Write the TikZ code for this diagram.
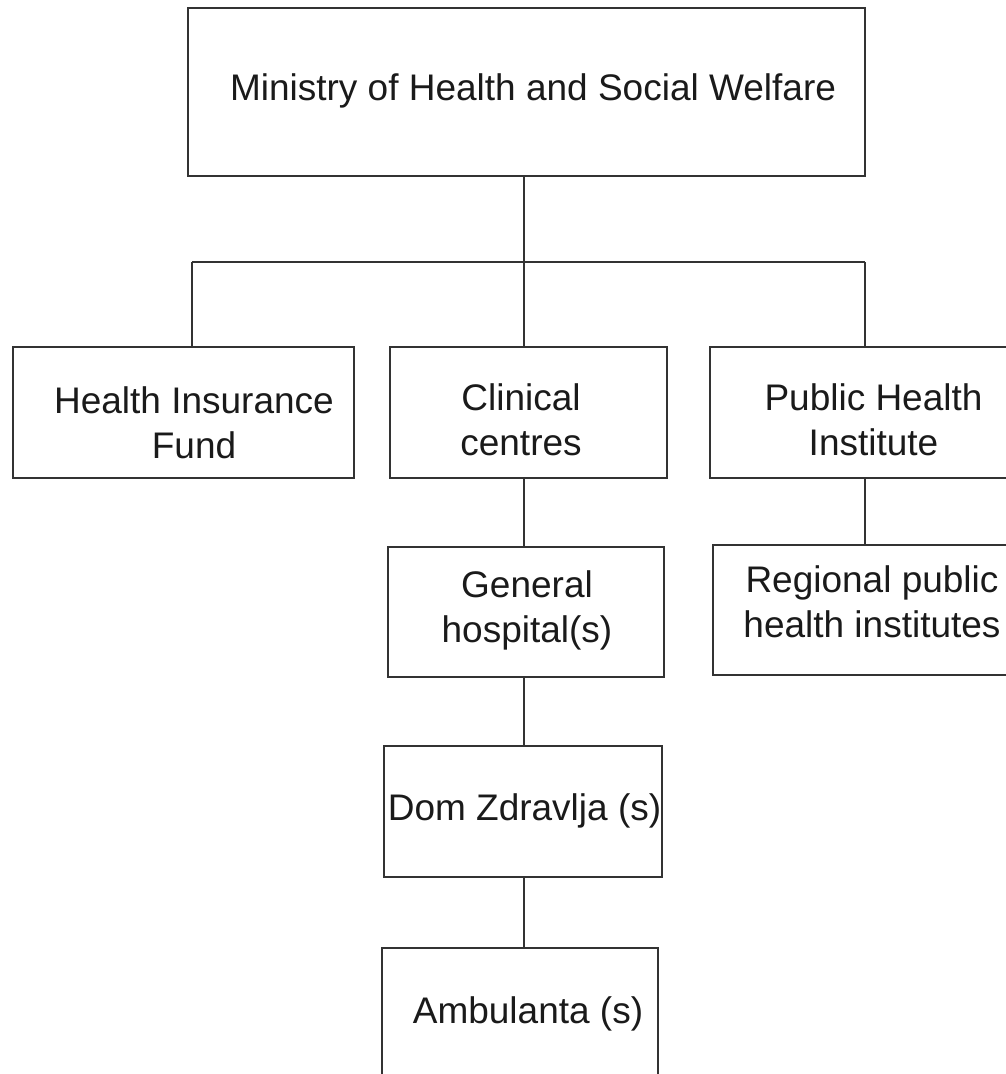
\documentclass[tikz,border=0pt]{standalone}
\usepackage{fontspec}
\setmainfont{Liberation Sans}
\definecolor{linecol}{HTML}{333333}
\definecolor{txtcol}{HTML}{1A1A1A}
\begin{document}
\begin{tikzpicture}[x=1pt,y=-1pt,
  box/.style={draw=linecol, line width=2pt, rectangle, inner sep=0pt, minimum width=#1},
  lbl/.style={anchor=base, inner sep=0pt, text=txtcol, font=\fontsize{37}{45}\selectfont},
  conn/.style={draw=linecol, line width=2pt}]
\useasboundingbox (0,0) rectangle (1006,1074);
\clip (0,0) rectangle (1006,1074);
% boxes
\node[box=677pt, minimum height=168pt] (ministry) at (526.5,92) {};
\node[box=341pt, minimum height=131pt] (hif) at (183.5,412.5) {};
\node[box=277pt, minimum height=131pt] (clin) at (528.5,412.5) {};
\node[box=330pt, minimum height=131pt] (phi) at (875,412.5) {};
\node[box=276pt, minimum height=130pt] (gen) at (526,612) {};
\node[box=327pt, minimum height=130pt] (reg) at (876.5,610) {};
\node[box=278pt, minimum height=131pt] (dom) at (523,811.5) {};
\node[box=276pt, minimum height=131pt] (amb) at (520,1013.5) {};
% texts
\node[lbl] (tministry) at (533,100) {Ministry of Health and Social Welfare};
\node[lbl] (thif) at (194,413) {\begin{tabular}[t]{@{}c@{}}Health Insurance\\Fund\end{tabular}};
\node[lbl] (tclin) at (521,410) {\begin{tabular}[t]{@{}c@{}}Clinical\\centres\end{tabular}};
\node[lbl] (tphi) at (873.5,410) {\begin{tabular}[t]{@{}c@{}}Public Health\\Institute\end{tabular}};
\node[lbl] (tgen) at (527,597) {\begin{tabular}[t]{@{}c@{}}General\\hospital(s)\end{tabular}};
\node[lbl] (treg) at (872,592) {\begin{tabular}[t]{@{}c@{}}Regional public\\health institutes\end{tabular}};
\node[lbl] (tdom) at (524.5,820) {Dom Zdravlja (s)};
\node[lbl] (tamb) at (528,1023) {Ambulanta (s)};
% bus coordinates
\coordinate (bus) at (524,262);
\coordinate (busL) at (192,262);
\coordinate (busR) at (865,262);
% connectors
\draw[conn] (ministry.south -| bus) -- (bus);
\draw[conn] (busL) -- (busR);
\draw[conn] (busL) -- (hif.north -| busL);
\draw[conn] (bus) -- (clin.north -| bus);
\draw[conn] (busR) -- (phi.north -| busR);
\draw[conn] (clin.south -| bus) -- (gen.north -| bus);
\draw[conn] (phi.south -| busR) -- (reg.north -| busR);
\draw[conn] (gen.south -| bus) -- (dom.north -| bus);
\draw[conn] (dom.south -| bus) -- (amb.north -| bus);
\end{tikzpicture}
\end{document}
